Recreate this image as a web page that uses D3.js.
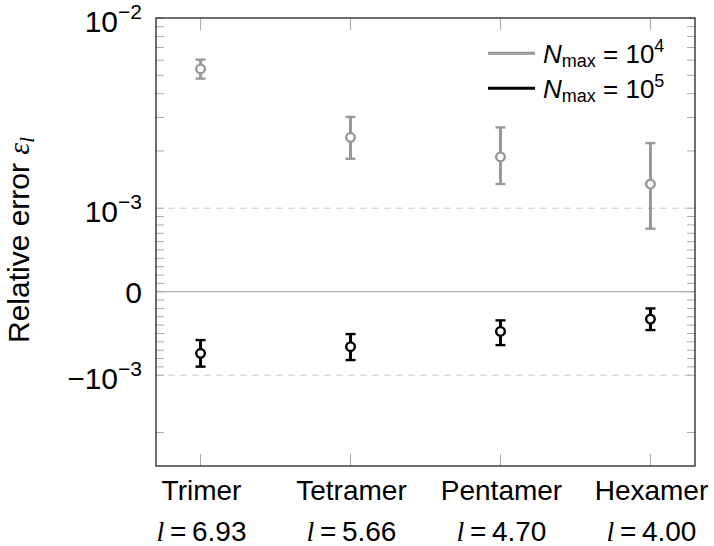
<!DOCTYPE html>
<html>
<head>
<meta charset="utf-8">
<script src="https://cdn.jsdelivr.net/npm/d3@7/dist/d3.min.js"></script>
<style>
  body { margin: 0; background: #fff; }
  text { font-family: "Liberation Sans", Arial, sans-serif; fill: #000; }
</style>
</head>
<body>
<svg id="chart" width="714" height="546"></svg>
<script>
// Data
var categories = ["Trimer", "Tetramer", "Pentamer", "Hexamer"],
    lengths = ["6.93", "5.66", "4.70", "4.00"];

// N_max = 10^4 (gray)
var n4Mean = [5.40e-3, 2.36e-3, 1.86e-3, 1.34e-3],
    n4Lo   = [4.80e-3, 1.82e-3, 1.34e-3, 0.755e-3],
    n4Hi   = [6.04e-3, 3.02e-3, 2.66e-3, 2.20e-3];

// N_max = 10^5 (black)
var n5Mean = [-0.738e-3, -0.658e-3, -0.475e-3, -0.328e-3],
    n5Lo   = [-0.897e-3, -0.818e-3, -0.639e-3, -0.459e-3],
    n5Hi   = [-0.579e-3, -0.507e-3, -0.343e-3, -0.200e-3];

var majorTicks = [1e-2, 1e-3, 0, -1e-3],
    yMin = -3e-3, yMax = 1e-2;

// note: "top" is taken by window.top, so use plot* names
var svg = d3.select("#chart"),
    plotL = 156, plotR = 695, plotT = 18, plotB = 466;

// Symmetric log: linear inside |v| <= 1e-3, log10 outside
var lin = 1e-3, linDecades = 0.439;
var T = function(v) {
  var a = Math.abs(v);
  if (a <= lin) return v / lin * linDecades;
  return (v < 0 ? -1 : 1) * (linDecades + Math.log10(a / lin));
};

var yT = d3.scaleLinear().domain([T(yMin), T(yMax)]).range([plotB, plotT]),
    y = function(v) { return yT(T(v)); },
    x = d3.scalePoint().domain(categories).range([plotL, plotR]).padding(0.297);

// minor ticks
var minor = [];
for (var k = 2; k <= 9; k++) minor.push(k * 1e-3);
for (var k = 1; k <= 9; k++) { minor.push(k * 1e-4); minor.push(-k * 1e-4); }
minor.push(-2e-3);

// grid: dashed at +-1e-3, solid at 0
svg.selectAll(".grid")
  .data([1e-3, -1e-3])
  .enter().append("line")
  .attr("x1", plotL).attr("x2", plotR)
  .attr("y1", function(d) { return y(d); })
  .attr("y2", function(d) { return y(d); })
  .attr("stroke", "#cccccc").attr("stroke-width", 1)
  .attr("stroke-dasharray", "7,5");

svg.append("line")
  .attr("x1", plotL).attr("x2", plotR)
  .attr("y1", y(0)).attr("y2", y(0))
  .attr("stroke", "#999999").attr("stroke-width", 1.2);

// y ticks on both sides
var yTicks = minor.concat(majorTicks);
[plotL, plotR].forEach(function(x0) {
  var dir = x0 === plotL ? 1 : -1;
  svg.selectAll(null)
    .data(yTicks)
    .enter().append("line")
    .attr("x1", x0).attr("x2", x0 + dir * 8)
    .attr("y1", function(d) { return y(d); })
    .attr("y2", function(d) { return y(d); })
    .attr("stroke", "#aaaaaa").attr("stroke-width", 1);
});

// x ticks top and bottom
[[plotT, 1], [plotB, -1]].forEach(function(p) {
  svg.selectAll(null)
    .data(categories)
    .enter().append("line")
    .attr("x1", function(d) { return x(d); })
    .attr("x2", function(d) { return x(d); })
    .attr("y1", p[0]).attr("y2", p[0] + p[1] * 12)
    .attr("stroke", "#aaaaaa").attr("stroke-width", 1);
});

// frame
svg.append("rect")
  .attr("x", plotL).attr("y", plotT)
  .attr("width", plotR - plotL).attr("height", plotB - plotT)
  .attr("fill", "none").attr("stroke", "#222").attr("stroke-width", 1.3);

// y tick labels
majorTicks.forEach(function(v) {
  var t = svg.append("text")
    .attr("text-anchor", "end")
    .attr("x", 142)
    .attr("y", y(v) + (v === 0 ? 11 : 13.5))
    .attr("font-size", 30);
  if (v === 0) { t.text("0"); return; }
  var e = Math.round(Math.log10(Math.abs(v)));
  t.append("tspan").text((v < 0 ? "\u2212" : "") + "10");
  t.append("tspan").attr("font-size", 21).attr("dy", -13).text("\u2212" + Math.abs(e));
});

// x tick labels
categories.forEach(function(c, i) {
  svg.append("text")
    .attr("text-anchor", "middle")
    .attr("x", x(c) + 1).attr("y", 500)
    .attr("font-size", 28)
    .text(c);
  var t = svg.append("text")
    .attr("text-anchor", "middle")
    .attr("x", x(c) + 1).attr("y", 541)
    .attr("font-size", 28);
  t.append("tspan").attr("font-family", "Liberation Serif").attr("font-style", "italic").text("l");
  t.append("tspan").text("\u2009=\u2009" + lengths[i]);
});

// y axis label
var yl = svg.append("text")
  .attr("transform", "translate(29,240) rotate(-90)")
  .attr("text-anchor", "middle")
  .attr("font-size", 30);
yl.append("tspan").text("Relative error ");
yl.append("tspan").attr("font-family", "Liberation Serif").attr("font-style", "italic").text("\u03b5");
yl.append("tspan").attr("font-family", "Liberation Serif").attr("font-style", "italic")
  .attr("font-size", 21).attr("dy", 5).text("l");

// error bars
var series = [
  { mean: n4Mean, lo: n4Lo, hi: n4Hi, color: "#999999" },
  { mean: n5Mean, lo: n5Lo, hi: n5Hi, color: "#000000" }
];

series.forEach(function(s) {
  var g = svg.append("g");
  var rows = categories.map(function(c, i) {
    return { c: c, m: s.mean[i], lo: s.lo[i], hi: s.hi[i] };
  });
  g.selectAll(".bar").data(rows).enter().append("line")
    .attr("x1", function(d) { return x(d.c); })
    .attr("x2", function(d) { return x(d.c); })
    .attr("y1", function(d) { return y(d.lo); })
    .attr("y2", function(d) { return y(d.hi); })
    .attr("stroke", s.color).attr("stroke-width", 3);
  ["lo", "hi"].forEach(function(key) {
    g.selectAll(null).data(rows).enter().append("line")
      .attr("x1", function(d) { return x(d.c) - 5; })
      .attr("x2", function(d) { return x(d.c) + 5; })
      .attr("y1", function(d) { return y(d[key]); })
      .attr("y2", function(d) { return y(d[key]); })
      .attr("stroke", s.color).attr("stroke-width", 2.4);
  });
  g.selectAll("circle").data(rows).enter().append("circle")
    .attr("cx", function(d) { return x(d.c); })
    .attr("cy", function(d) { return y(d.m); })
    .attr("r", 4.3)
    .attr("fill", "#fff")
    .attr("stroke", s.color).attr("stroke-width", 2.4);
});

// legend
var legend = [
  { color: "#999999", exp: "4", y: 53.3 },
  { color: "#000000", exp: "5", y: 88.3 }
];
legend.forEach(function(d) {
  svg.append("line")
    .attr("x1", 488).attr("x2", 535)
    .attr("y1", d.y).attr("y2", d.y)
    .attr("stroke", d.color).attr("stroke-width", 3);
  var t = svg.append("text")
    .attr("x", 543).attr("y", d.y + 10)
    .attr("font-size", 26);
  t.append("tspan").attr("font-style", "italic").text("N");
  t.append("tspan").attr("font-size", 18).attr("dy", 4).text("max");
  t.append("tspan").attr("dy", -4).text(" = 10");
  t.append("tspan").attr("font-size", 18).attr("dy", -11).text(d.exp);
});
</script>
</body>
</html>
